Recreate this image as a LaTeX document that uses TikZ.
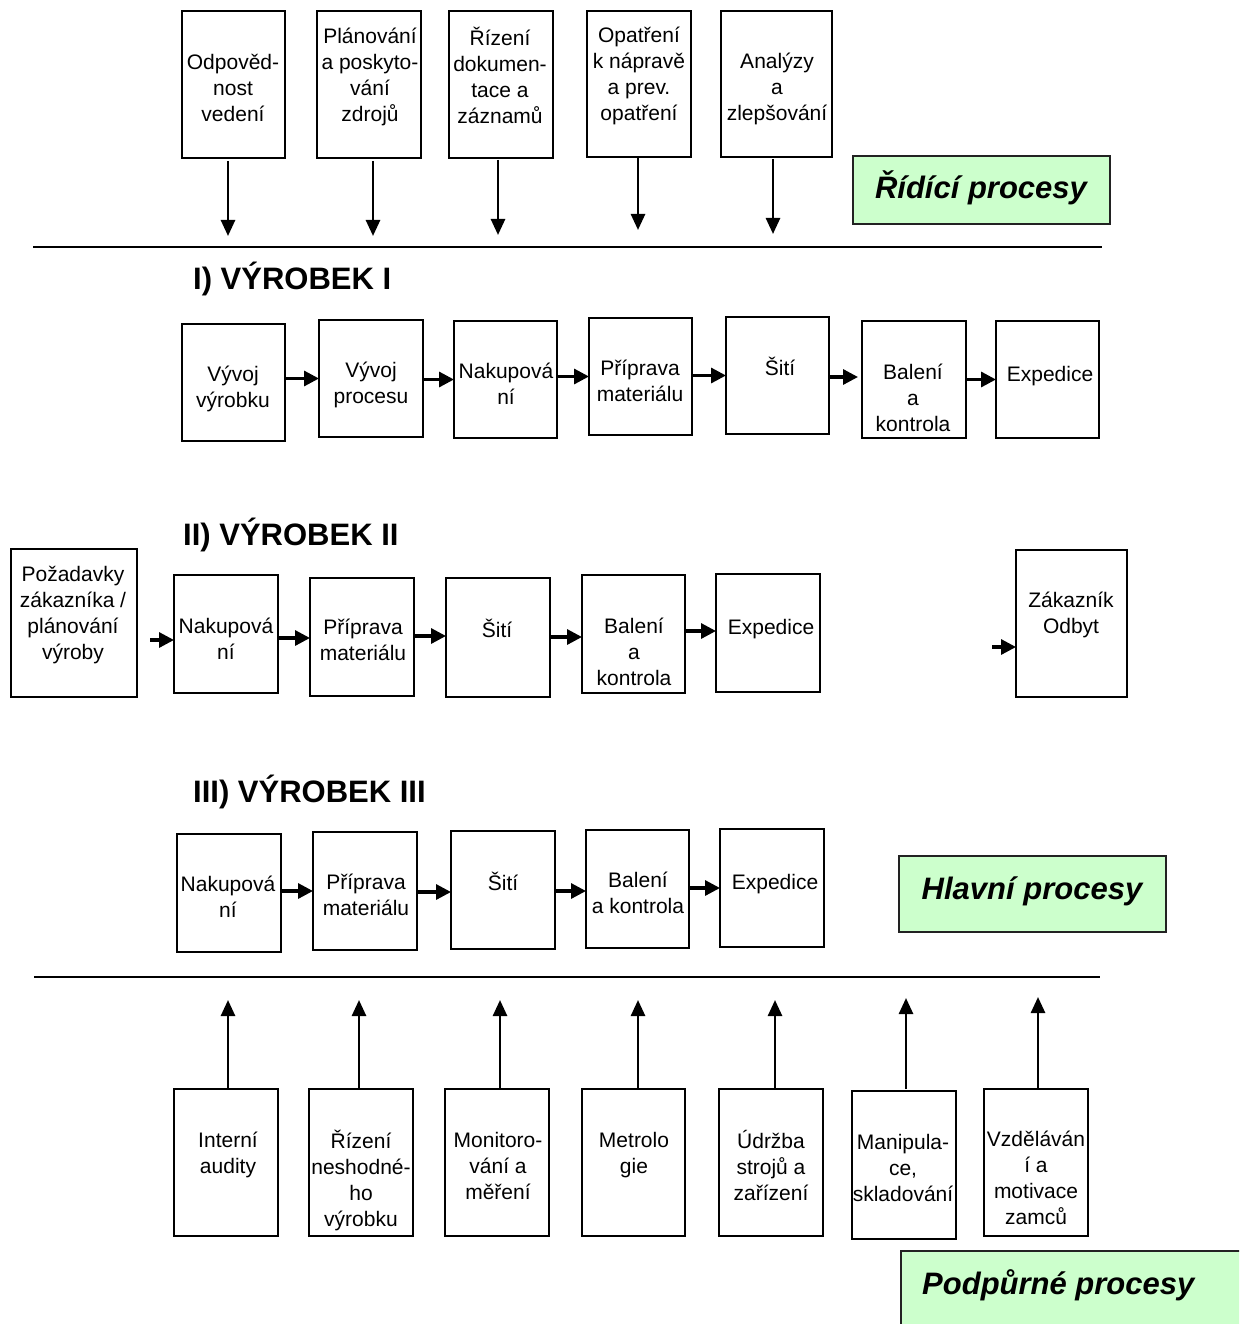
\documentclass[tikz,border=0pt]{standalone}
\usepackage{fontspec}
\setmainfont{Liberation Sans}
\usetikzlibrary{arrows.meta}
\definecolor{tagfill}{HTML}{CCFFCC}
\definecolor{tagline}{HTML}{222222}
% rectangle given by its top-left and bottom-right corners (y grows downwards)
\newcommand\procbox[5]{\node[box, minimum width={#4-#2}, minimum height={#5-#3}] (#1) at (#2,#3) {};}
\begin{document}
\begin{tikzpicture}[x=1pt,y=-1pt]
\tikzset{
  box/.style={draw, line width=2pt, anchor=north west, inner sep=0pt, outer sep=0pt},
  txt/.style={font=\fontsize{21}{26}\selectfont, align=center, inner sep=0pt, yshift=-4pt,
              execute at begin node=\strut, execute at end node=\strut},
  head/.style={font=\fontsize{31}{36}\selectfont\bfseries, anchor=base west, inner sep=0pt},
  tag/.style={draw=tagline, line width=1.5pt, fill=tagfill, anchor=north west, inner sep=0pt, outer sep=0pt},
  tagtxt/.style={font=\fontsize{31}{36}\selectfont\bfseries\itshape, inner sep=0pt},
  arr/.style={line width=2.6pt, -{Triangle[length=16pt,width=14pt]}},
  harr/.style={line width=3.2pt, -{Triangle[length=15pt,width=15pt]}},
  sepline/.style={line width=2pt}
}
\path[use as bounding box] (0,0) rectangle (1239,1324);
\clip (0,0) rectangle (1239,1324);
\fill[white] (0,0) rectangle (1239,1324);

% ---------- control processes ----------
\procbox{c1}{182}{11}{285}{158}
\procbox{c2}{317}{11}{421}{158}
\procbox{c3}{449}{11}{553}{158}
\procbox{c4}{587}{11}{691}{157}
\procbox{c5}{721}{11}{832}{157}
\node[txt] (ct1) at (233,88) {Odpověd-\\nost\\vedení};
\node[txt] (ct2) at (370,75) {Plánování\\a poskyto-\\vání\\zdrojů};
\node[txt] (ct3) at (500,75) {Řízení\\dokumen-\\tace a\\záznamů};
\node[txt] (ct4) at (639,74) {Opatření\\k nápravě\\a prev.\\opatření};
\node[txt] (ct5) at (777,87) {Analýzy\\a\\zlepšování};

\coordinate (e1) at (228,236);
\coordinate (e2) at (373,236);
\coordinate (e3) at (498,235);
\coordinate (e4) at (638,230);
\coordinate (e5) at (773,234);
\draw[arr, shorten <=3pt] (c1.south -| e1) -- (e1);
\draw[arr, shorten <=3pt] (c2.south -| e2) -- (e2);
\draw[arr, shorten <=2pt] (c3.south -| e3) -- (e3);
\draw[arr] (c4.south -| e4) -- (e4);
\draw[arr, shorten <=2pt] (c5.south -| e5) -- (e5);

\node[tag, minimum width=257pt, minimum height=68pt] (g1) at (853,156) {};
\node[tagtxt, anchor=base] (g1t) at (981,199) {Řídící procesy};

\draw[sepline] (33,247) -- (1102,247);

% ---------- product I ----------
\node[head] (h1) at (193,289) {I) VÝROBEK I};
\procbox{a1}{182}{324}{285}{441}
\procbox{a2}{319}{320}{423}{437}
\procbox{a3}{454}{321}{557}{438}
\procbox{a4}{589}{318}{692}{435}
\procbox{a5}{726}{317}{829}{434}
\procbox{a6}{862}{321}{966}{438}
\procbox{a7}{996}{321}{1099}{438}
\node[txt] (at1) at (233,387) {Vývoj\\výrobku};
\node[txt] (at2) at (371,383) {Vývoj\\procesu};
\node[txt] (at3) at (506,384) {Nakupová\\ní};
\node[txt] (at4) at (640,381) {Příprava\\materiálu};
\node[txt] (at5) at (780,366) {Šití};
\node[txt] (at6) at (913,398) {Balení\\a\\kontrola};
\node[txt] (at7) at (1050,372) {Expedice};
\draw[harr] (a1.east |- a2.west) -- (a2.west);
\draw[harr] (a2.east |- a3.west) -- (a3.west);
\draw[harr] (a3.east |- a4.west) -- (a4.west);
\draw[harr] (a4.east |- a5.west) -- (a5.west);
\draw[harr, shorten >=4pt] (a5.east |- 0,377) -- (a6.west |- 0,377);
\draw[harr] (a6.east |- a7.west) -- (a7.west);

% ---------- product II ----------
\node[head] (h2) at (183,545) {II) VÝROBEK II};
\procbox{p0}{11}{549}{137}{697}
\procbox{p1}{174}{575}{278}{693}
\procbox{p2}{310}{578}{414}{696}
\procbox{p3}{446}{578}{550}{697}
\procbox{p4}{582}{575}{685}{693}
\procbox{p5}{716}{574}{820}{692}
\procbox{zk}{1016}{550}{1127}{697}
\node[txt] (pt0) at (73,613) {Požadavky\\zákazníka /\\plánování\\výroby};
\node[txt] (pt1) at (226,639) {Nakupová\\ní};
\node[txt] (pt2) at (363,640) {Příprava\\materiálu};
\node[txt] (pt3) at (497,628) {Šití};
\node[txt] (pt4) at (634,652) {Balení\\a\\kontrola};
\node[txt] (pt5) at (771,625) {Expedice};
\node[txt] (zkt) at (1071,613) {Zákazník\\Odbyt};
\coordinate (f0) at (150,640);
\coordinate (f1) at (992,647);
\draw[harr] (f0) -- (f0 -| p1.west);
\draw[harr] (p1.east |- 0,638) -- (p2.west |- 0,638);
\draw[harr] (p2.east |- 0,636) -- (p3.west |- 0,636);
\draw[harr] (p3.east |- 0,637) -- (p4.west |- 0,637);
\draw[harr] (p4.east |- 0,631) -- (p5.west |- 0,631);
\draw[harr] (f1) -- (f1 -| zk.west);

% ---------- product III ----------
\node[head] (h3) at (193,802) {III) VÝROBEK III};
\procbox{q1}{177}{834}{281}{952}
\procbox{q2}{313}{832}{417}{950}
\procbox{q3}{451}{831}{555}{949}
\procbox{q4}{586}{830}{689}{948}
\procbox{q5}{720}{829}{824}{947}
\node[txt] (qt1) at (228,897) {Nakupová\\ní};
\node[txt] (qt2) at (366,895) {Příprava\\materiálu};
\node[txt] (qt3) at (503,881) {Šití};
\node[txt] (qt4) at (638,893) {Balení\\a kontrola};
\node[txt] (qt5) at (775,880) {Expedice};
\draw[harr] (q1.east |- 0,891) -- (q2.west |- 0,891);
\draw[harr] (q2.east |- 0,892) -- (q3.west |- 0,892);
\draw[harr] (q3.east |- 0,891) -- (q4.west |- 0,891);
\draw[harr] (q4.east |- 0,888) -- (q5.west |- 0,888);

\node[tag, minimum width=267pt, minimum height=76pt] (g2) at (899,856) {};
\node[tagtxt, anchor=base] (g2t) at (1032,899) {Hlavní procesy};

\draw[sepline] (34,977) -- (1100,977);

% ---------- support processes ----------
\procbox{s1}{174}{1089}{278}{1236}
\procbox{s2}{309}{1089}{413}{1236}
\procbox{s3}{445}{1089}{549}{1236}
\procbox{s4}{582}{1089}{685}{1236}
\procbox{s5}{719}{1089}{823}{1236}
\procbox{s6}{852}{1091}{956}{1239}
\procbox{s7}{984}{1089}{1088}{1236}
\node[txt] (st1) at (228,1153) {Interní\\audity};
\node[txt] (st2) at (361,1178) {Řízení\\neshodné-\\ho\\výrobku};
\node[txt] (st3) at (498,1166) {Monitoro-\\vání a\\měření};
\node[txt] (st4) at (634,1153) {Metrolo\\gie};
\node[txt] (st5) at (771,1165) {Údržba\\strojů a\\zařízení};
\node[txt] (st6) at (903,1168) {Manipula-\\ce,\\skladování};
\node[txt] (st7) at (1036,1178) {Vzděláván\\í a\\motivace\\zamců};
\coordinate (u1) at (228,1000);
\coordinate (u2) at (359,1000);
\coordinate (u3) at (500,1000);
\coordinate (u4) at (638,1000);
\coordinate (u5) at (775,1000);
\coordinate (u6) at (906,998);
\coordinate (u7) at (1038,997);
\draw[arr] (s1.north -| u1) -- (u1);
\draw[arr] (s2.north -| u2) -- (u2);
\draw[arr] (s3.north -| u3) -- (u3);
\draw[arr] (s4.north -| u4) -- (u4);
\draw[arr] (s5.north -| u5) -- (u5);
\draw[arr, shorten <=2pt] (s6.north -| u6) -- (u6);
\draw[arr] (s7.north -| u7) -- (u7);

\node[tag, minimum width=350pt, minimum height=85pt] (g3) at (901,1251) {};
\node[tagtxt, anchor=base west] (g3t) at (922,1294) {Podpůrné procesy};
\end{tikzpicture}
\end{document}
